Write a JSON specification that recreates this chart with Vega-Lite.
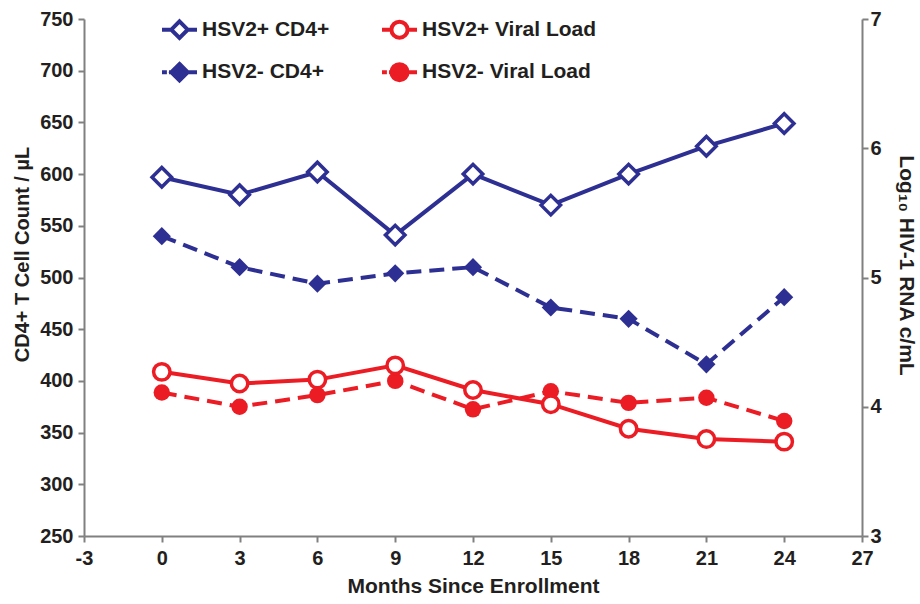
{
  "$schema": "https://vega.github.io/schema/vega-lite/v6.json",
  "width": 778,
  "height": 517,
  "autosize": {"type": "none"},
  "padding": {"left": 84, "top": 19, "right": 58, "bottom": 68},
  "background": "white",
  "data": {
    "values": [
      {"month": 0, "series": "HSV2+ CD4+", "value": 597},
      {"month": 3, "series": "HSV2+ CD4+", "value": 580},
      {"month": 6, "series": "HSV2+ CD4+", "value": 602},
      {"month": 9, "series": "HSV2+ CD4+", "value": 541},
      {"month": 12, "series": "HSV2+ CD4+", "value": 600},
      {"month": 15, "series": "HSV2+ CD4+", "value": 570},
      {"month": 18, "series": "HSV2+ CD4+", "value": 600},
      {"month": 21, "series": "HSV2+ CD4+", "value": 627},
      {"month": 24, "series": "HSV2+ CD4+", "value": 649},
      {"month": 0, "series": "HSV2- CD4+", "value": 540},
      {"month": 3, "series": "HSV2- CD4+", "value": 510},
      {"month": 6, "series": "HSV2- CD4+", "value": 494},
      {"month": 9, "series": "HSV2- CD4+", "value": 504},
      {"month": 12, "series": "HSV2- CD4+", "value": 510},
      {"month": 15, "series": "HSV2- CD4+", "value": 471},
      {"month": 18, "series": "HSV2- CD4+", "value": 460},
      {"month": 21, "series": "HSV2- CD4+", "value": 416},
      {"month": 24, "series": "HSV2- CD4+", "value": 481},
      {"month": 0, "series": "HSV2+ Viral Load", "value": 4.27},
      {"month": 3, "series": "HSV2+ Viral Load", "value": 4.18},
      {"month": 6, "series": "HSV2+ Viral Load", "value": 4.21},
      {"month": 9, "series": "HSV2+ Viral Load", "value": 4.32},
      {"month": 12, "series": "HSV2+ Viral Load", "value": 4.13},
      {"month": 15, "series": "HSV2+ Viral Load", "value": 4.02},
      {"month": 18, "series": "HSV2+ Viral Load", "value": 3.83},
      {"month": 21, "series": "HSV2+ Viral Load", "value": 3.75},
      {"month": 24, "series": "HSV2+ Viral Load", "value": 3.73},
      {"month": 0, "series": "HSV2- Viral Load", "value": 4.11},
      {"month": 3, "series": "HSV2- Viral Load", "value": 4.0},
      {"month": 6, "series": "HSV2- Viral Load", "value": 4.09},
      {"month": 9, "series": "HSV2- Viral Load", "value": 4.2},
      {"month": 12, "series": "HSV2- Viral Load", "value": 3.98},
      {"month": 15, "series": "HSV2- Viral Load", "value": 4.12},
      {"month": 18, "series": "HSV2- Viral Load", "value": 4.03},
      {"month": 21, "series": "HSV2- Viral Load", "value": 4.07},
      {"month": 24, "series": "HSV2- Viral Load", "value": 3.89}
    ]
  },
  "layer": [
    {
      "encoding": {
        "x": {
          "field": "month", "type": "quantitative",
          "scale": {"domain": [-3, 27], "nice": false, "zero": false},
          "axis": {
            "values": [-3, 0, 3, 6, 9, 12, 15, 18, 21, 24, 27],
            "labelExpr": "replace(datum.label, '−', '-')",
            "title": "Months Since Enrollment",
            "labelPadding": 6,
            "titleFontSize": 21,
            "titleY": 50,
            "titleBaseline": "middle"
          }
        },
        "y": {
          "field": "value", "type": "quantitative",
          "scale": {"domain": [250, 750], "nice": false, "zero": false},
          "axis": {
            "values": [250, 300, 350, 400, 450, 500, 550, 600, 650, 700, 750],
            "title": "CD4+ T Cell Count / µL",
            "labelPadding": 5,
            "titleX": -62,
            "titleY": 235,
            "titleBaseline": "middle"
          }
        }
      },
      "layer": [
        {
          "transform": [{"filter": "datum.series === 'HSV2- CD4+'"}],
          "mark": {
            "type": "line", "color": "#2d2f92", "strokeWidth": 4, "strokeDash": [15, 8],
            "point": {"shape": "diamond", "size": 330, "filled": true, "fill": "#2d2f92", "strokeWidth": 0}
          }
        },
        {
          "transform": [{"filter": "datum.series === 'HSV2+ CD4+'"}],
          "mark": {
            "type": "line", "color": "#2d2f92", "strokeWidth": 4,
            "point": {"shape": "diamond", "size": 380, "filled": true, "fill": "white", "stroke": "#2d2f92", "strokeWidth": 3.5}
          }
        },
        {
          "mark": {"type": "point", "opacity": 0, "size": 1225, "filled": true, "strokeWidth": 4},
          "encoding": {
            "shape": {
              "field": "series", "type": "nominal",
              "scale": {
                "domain": ["HSV2+ CD4+", "HSV2- CD4+", "HSV2+ Viral Load", "HSV2- Viral Load"],
                "range": [
                  "M-1,0H-0.47M0.47,0H1M0,-0.47L0.47,0L0,0.47L-0.47,0Z",
                  "M-1,0H-0.72M-0.6,0H-0.47M0.47,0H1M0,-0.47L0.47,0L0,0.47L-0.47,0Z",
                  "M-1,0H-0.46M0.46,0H1M-0.46,0A0.46,0.46,0,1,1,0.46,0A0.46,0.46,0,1,1,-0.46,0Z",
                  "M-1,0H-0.72M-0.6,0H-0.46M0.46,0H1M-0.46,0A0.46,0.46,0,1,1,0.46,0A0.46,0.46,0,1,1,-0.46,0Z"
                ]
              },
              "legend": {
                "title": null,
                "orient": "none",
                "legendX": 76,
                "legendY": -9,
                "columns": 2,
                "columnPadding": 44,
                "rowPadding": 6.7,
                "padding": 0,
                "symbolSize": 1225,
                "symbolStrokeWidth": 4,
                "symbolOpacity": 1,
                "labelFont": "Liberation Sans",
                "labelFontWeight": "bold",
                "labelFontSize": 21,
                "labelColor": "#231f20",
                "labelOffset": 3,
                "labelLimit": 400,
                "encode": {"symbols": {"update": {"opacity": {"value": 1}}}}
              }
            },
            "stroke": {
              "field": "series", "type": "nominal",
              "scale": {
                "domain": ["HSV2+ CD4+", "HSV2- CD4+", "HSV2+ Viral Load", "HSV2- Viral Load"],
                "range": ["#2d2f92", "#2d2f92", "#ec1c24", "#ec1c24"]
              }
            },
            "fill": {
              "field": "series", "type": "nominal",
              "scale": {
                "domain": ["HSV2+ CD4+", "HSV2- CD4+", "HSV2+ Viral Load", "HSV2- Viral Load"],
                "range": ["white", "#2d2f92", "white", "#ec1c24"]
              }
            }
          }
        }
      ]
    },
    {
      "encoding": {
        "x": {
          "field": "month", "type": "quantitative",
          "scale": {"domain": [-3, 27], "nice": false, "zero": false},
          "axis": {
            "values": [-3, 0, 3, 6, 9, 12, 15, 18, 21, 24, 27],
            "labelExpr": "replace(datum.label, '−', '-')",
            "title": "Months Since Enrollment",
            "labelPadding": 6,
            "titleFontSize": 21,
            "titleY": 50,
            "titleBaseline": "middle"
          }
        },
        "y": {
          "field": "value", "type": "quantitative",
          "scale": {"domain": [3, 7], "nice": false, "zero": false},
          "axis": {
            "orient": "right",
            "values": [3, 4, 5, 6, 7],
            "title": "Log₁₀ HIV-1 RNA c/mL",
            "labelPadding": 2,
            "titleX": 43,
            "titleY": 246,
            "titleAngle": 90,
            "titleFontSize": 21,
            "titleBaseline": "middle"
          }
        }
      },
      "layer": [
        {
          "transform": [{"filter": "datum.series === 'HSV2- Viral Load'"}],
          "mark": {
            "type": "line", "color": "#ec1c24", "strokeWidth": 4, "strokeDash": [15, 8],
            "point": {"shape": "circle", "size": 270, "filled": true, "fill": "#ec1c24", "strokeWidth": 0}
          }
        },
        {
          "transform": [{"filter": "datum.series === 'HSV2+ Viral Load'"}],
          "mark": {
            "type": "line", "color": "#ec1c24", "strokeWidth": 4,
            "point": {"shape": "circle", "size": 270, "filled": true, "fill": "white", "stroke": "#ec1c24", "strokeWidth": 3.5}
          }
        }
      ]
    }
  ],
  "resolve": {"scale": {"y": "independent"}},
  "config": {
    "view": {"stroke": null},
    "font": "Liberation Sans",
    "axis": {
      "grid": false,
      "labelFont": "Liberation Sans",
      "labelFontWeight": "bold",
      "labelFontSize": 20,
      "labelColor": "#231f20",
      "titleFont": "Liberation Sans",
      "titleFontWeight": "bold",
      "titleFontSize": 20,
      "titleColor": "#231f20",
      "domainColor": "#808080",
      "domainWidth": 2,
      "tickColor": "#808080",
      "tickWidth": 2,
      "tickSize": 6,
      "labelOverlap": false,
      "labelFlush": false
    }
  }
}
